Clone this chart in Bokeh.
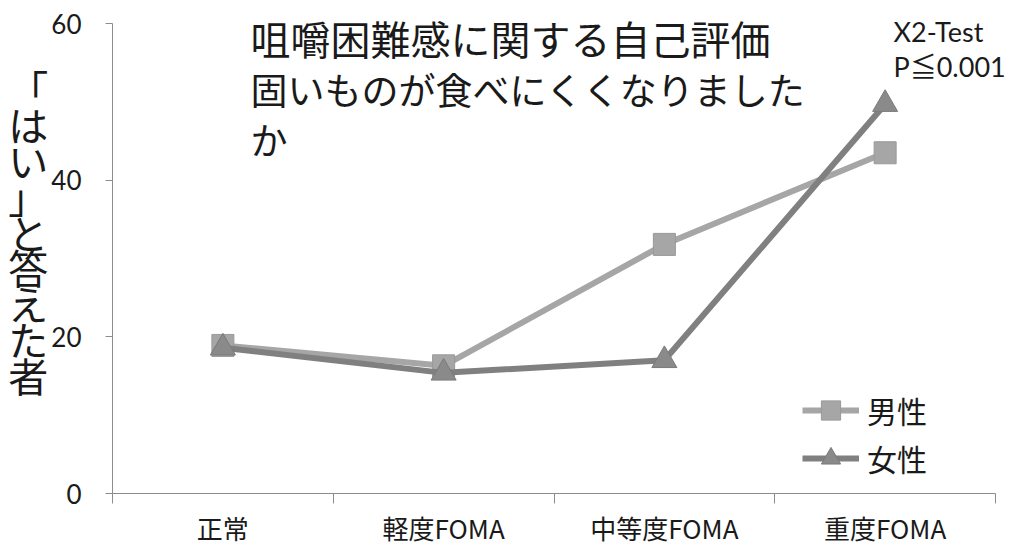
from bokeh.plotting import figure
from bokeh.models import Range1d, FixedTicker, Label, Legend, LegendItem
from bokeh.core.properties import value
from bokeh.embed import file_html
from bokeh.resources import INLINE

categories = ["正常", "軽度FOMA", "中等度FOMA", "重度FOMA"]
male = [18.9, 16.3, 31.8, 43.5]
female = [18.6, 15.4, 17.0, 49.7]
y_ticks = [0, 20, 40, 60]
title_lines = ["咀嚼困難感に関する自己評価", "固いものが食べにくくなりました", "か"]
y_label = "「はい」と答えた者"
test_lines = ["X2-Test", "P≦0.001"]

FONT = "Noto Sans CJK JP"
LFONT = "Lato, Noto Sans CJK JP"

n = len(categories)
y_max = 60
xs = [i + 0.5 for i in range(n)]

# layout in pixels: axes run x 112..995, y 23..493; frame extended so texts are not clipped
W, H = 1026, 554
AX_L, AX_R, AX_T, AX_B = 112, 995, 23, 493
FR_T = 5
xppu = (AX_R - AX_L) / n
yppu = (AX_B - AX_T) / y_max
x_end = (W - AX_L) / xppu
y_end = (AX_B - FR_T) / yppu

p = figure(width=W, height=H, output_backend="svg", toolbar_location=None,
           x_range=Range1d(0, x_end), y_range=Range1d(0, y_end),
           min_border_left=AX_L, min_border_right=0, min_border_top=FR_T,
           min_border_bottom=H - AX_B)
p.outline_line_color = None
p.xgrid.visible = False
p.ygrid.visible = False
p.background_fill_color = "white"
p.border_fill_color = "white"

# x axis
p.xaxis.bounds = (0, n)
p.xaxis.ticker = FixedTicker(ticks=xs, minor_ticks=list(range(n + 1)))
p.xaxis.major_label_overrides = {x: c for x, c in zip(xs, categories)}
p.xaxis.major_tick_out = 0
p.xaxis.major_tick_in = 0
p.xaxis.minor_tick_out = 10
p.xaxis.minor_tick_in = 0
p.xaxis.minor_tick_line_color = "#8c8c8c"
p.xaxis.axis_line_color = "#8c8c8c"
p.xaxis.major_label_text_font = FONT
p.xaxis.major_label_text_font_size = "26px"
p.xaxis.major_label_text_color = "#1a1a1a"
p.xaxis.major_label_standoff = 5

# y axis
p.yaxis.bounds = (0, y_max)
p.yaxis.ticker = FixedTicker(ticks=y_ticks, minor_ticks=[])
p.yaxis.major_tick_out = 7
p.yaxis.major_tick_in = 0
p.yaxis.major_tick_line_color = "#8c8c8c"
p.yaxis.axis_line_color = "#8c8c8c"
p.yaxis.minor_tick_line_color = None
p.yaxis.major_label_text_font = LFONT
p.yaxis.major_label_text_font_size = "26px"
p.yaxis.major_label_text_color = "#1a1a1a"
p.yaxis.major_label_standoff = 24
p.yaxis.axis_label = "\n".join(list(y_label)) + "\n\u3000"
p.yaxis.axis_label_orientation = "horizontal"
p.yaxis.axis_label_text_font = FONT
p.yaxis.axis_label_text_font_size = "40px"
p.yaxis.axis_label_text_font_style = "normal"
p.yaxis.axis_label_text_color = "#1a1a1a"
p.yaxis.axis_label_text_line_height = 0.62
p.yaxis.axis_label_standoff = 0

MALE_C = "#a6a6a6"
FEMALE_C = "#808080"

ml = p.line(xs, male, line_color=MALE_C, line_width=6)
ms = p.scatter(xs, male, marker="square", size=22, fill_color=MALE_C, line_color="#999999", line_width=1)
fl = p.line(xs, female, line_color=FEMALE_C, line_width=6)
fs = p.scatter(xs, female, marker="triangle", size=25, fill_color="#8a8a8a", line_color="#7a7a7a", line_width=1)

legend = Legend(items=[LegendItem(label="男性", renderers=[ml, ms]),
                       LegendItem(label="女性", renderers=[fl, fs])],
                location=(690, 11), glyph_width=57, glyph_height=48, label_height=30,
                label_text_font=FONT, label_text_font_size="30px", label_text_color="#1a1a1a",
                label_standoff=8, spacing=0, padding=4, background_fill_alpha=0,
                border_line_color=None)
p.add_layout(legend)

def dx(px):
    return (px - AX_L) / xppu

def dy(py):
    return (AX_B - py) / yppu

for t, py, fsz in zip(title_lines, [37, 88, 138], ["40px", "37px", "37px"]):
    p.add_layout(Label(x=dx(250), y=dy(py), text=t, text_font=FONT, text_font_size=fsz,
                       text_baseline="middle", text_align="left", text_color="#1a1a1a"))

for t, py in zip(test_lines, [31, 66]):
    p.add_layout(Label(x=dx(893), y=dy(py), text=t, text_font=LFONT, text_font_size="27px",
                       text_baseline="middle", text_align="left", text_color="#1a1a1a"))

open("out.html", "w").write(file_html(p, INLINE))
